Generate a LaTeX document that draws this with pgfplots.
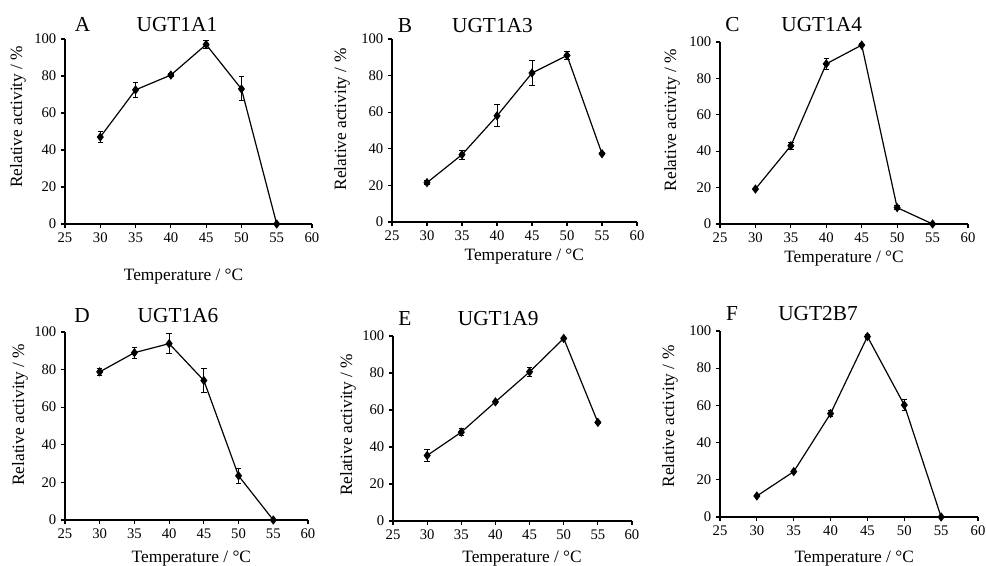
\documentclass[border=0pt]{standalone}
\usepackage{fontspec}
\setmainfont{Liberation Serif}
\usepackage{pgfplots}
\pgfplotsset{compat=1.18}

% common look of the six panels
\pgfplotsset{
  panel/.style={
    scale only axis,
    axis lines=left,
    axis line style={-, line width=0.8pt},
    xmin=25, xmax=60, ymin=0, ymax=100,
    xtick={25,30,...,60}, ytick={0,20,...,100},
    tick align=outside, major tick length=3pt,
    tick style={line width=0.8pt, black},
    ticklabel style={font=\fontsize{11}{13}\selectfont},
    /pgf/number format/assume math mode=true,
    label style={font=\fontsize{13}{15}\selectfont},
    xlabel={Temperature / °C},
    ylabel={Relative activity / \%},
    clip=false,
  },
  curve/.style={
    black, line width=0.9pt, mark=diamond*, mark size=2.8pt,
    error bars/.cd, y dir=both, y explicit,
    error bar style={line width=0.75pt},
    error mark options={rotate=90, mark size=2pt, line width=0.75pt},
  },
}

\begin{document}
\begin{tikzpicture}
\useasboundingbox (0,0) rectangle (739.5pt,424.5pt);

% A
\begin{axis}[panel, at={(48.75pt,256.5pt)}, anchor=south west,
  width=185.25pt, height=138.75pt,
  xlabel style={at={(axis description cs:0.48,-0.303)}, anchor=base},
  ylabel style={at={(axis description cs:-0.19,0.58)}, anchor=center}]
\addplot[curve] coordinates {
  (30,47) +- (0,3)
  (35,72.5) +- (0,4)
  (40,80.5) +- (0,1)
  (45,97) +- (0,2)
  (50,73) +- (0,6.5)
  (55,0) +- (0,0)
};
\node[anchor=base, font=\fontsize{16}{18}\selectfont] at (axis description cs:0.071,1.038) {A};
\node[anchor=base, font=\fontsize{16}{18}\selectfont] at (axis description cs:0.453,1.038) {UGT1A1};
\end{axis}

% B
\begin{axis}[panel, at={(294pt,258pt)}, anchor=south west,
  width=183.75pt, height=137.25pt,
  xlabel style={at={(axis description cs:0.54,-0.208)}, anchor=base},
  ylabel style={at={(axis description cs:-0.204,0.56)}, anchor=center}]
\addplot[curve] coordinates {
  (30,21.5) +- (0,1)
  (35,36.8) +- (0,2.5)
  (40,58) +- (0,6)
  (45,81.4) +- (0,7)
  (50,91) +- (0,2)
  (55,37.3) +- (0,0.5)
};
\node[anchor=base, font=\fontsize{16}{18}\selectfont] at (axis description cs:0.053,1.038) {B};
\node[anchor=base, font=\fontsize{16}{18}\selectfont] at (axis description cs:0.41,1.038) {UGT1A3};
\end{axis}

% C
\begin{axis}[panel, at={(540pt,256.5pt)}, anchor=south west,
  width=186pt, height=136.5pt,
  xlabel style={at={(axis description cs:0.50,-0.209)}, anchor=base},
  ylabel style={at={(axis description cs:-0.194,0.57)}, anchor=center}]
\addplot[curve] coordinates {
  (30,19.2) +- (0,0.5)
  (35,43) +- (0,2)
  (40,88) +- (0,3)
  (45,98.3) +- (0,1)
  (50,9) +- (0,1)
  (55,0) +- (0,0)
};
\node[anchor=base, font=\fontsize{16}{18}\selectfont] at (axis description cs:0.05,1.055) {C};
\node[anchor=base, font=\fontsize{16}{18}\selectfont] at (axis description cs:0.41,1.055) {UGT1A4};
\end{axis}

% D
\begin{axis}[panel, at={(48.75pt,34.5pt)}, anchor=south west,
  width=182.25pt, height=141pt,
  xlabel style={at={(axis description cs:0.52,-0.225)}, anchor=base},
  ylabel style={at={(axis description cs:-0.185,0.56)}, anchor=center}]
\addplot[curve] coordinates {
  (30,78.8) +- (0,2)
  (35,89) +- (0,3)
  (40,93.8) +- (0,5.5)
  (45,74.2) +- (0,6.5)
  (50,23.5) +- (0,4)
  (55,0) +- (0,0)
};
\node[anchor=base, font=\fontsize{16}{18}\selectfont] at (axis description cs:0.07,1.053) {D};
\node[anchor=base, font=\fontsize{16}{18}\selectfont] at (axis description cs:0.465,1.053) {UGT1A6};
\end{axis}

% E
\begin{axis}[panel, at={(294.75pt,33.75pt)}, anchor=south west,
  width=179.25pt, height=138.75pt,
  xlabel style={at={(axis description cs:0.54,-0.222)}, anchor=base},
  ylabel style={at={(axis description cs:-0.188,0.52)}, anchor=center}]
\addplot[curve] coordinates {
  (30,35.4) +- (0,3.5)
  (35,48) +- (0,2)
  (40,64.4) +- (0,1)
  (45,80.6) +- (0,2.5)
  (50,98.7) +- (0,0.5)
  (55,53.3) +- (0,0.5)
};
\node[anchor=base, font=\fontsize{16}{18}\selectfont] at (axis description cs:0.05,1.059) {E};
\node[anchor=base, font=\fontsize{16}{18}\selectfont] at (axis description cs:0.44,1.059) {UGT1A9};
\end{axis}

% F
\begin{axis}[panel, at={(540pt,36.75pt)}, anchor=south west,
  width=193.5pt, height=139.5pt,
  xlabel style={at={(axis description cs:0.52,-0.242)}, anchor=base},
  ylabel style={at={(axis description cs:-0.194,0.54)}, anchor=center}]
\addplot[curve] coordinates {
  (30,11.3) +- (0,0.5)
  (35,24.4) +- (0,0.5)
  (40,55.6) +- (0,1.5)
  (45,97) +- (0,1)
  (50,60.2) +- (0,3)
  (55,0) +- (0,0)
};
\node[anchor=base, font=\fontsize{16}{18}\selectfont] at (axis description cs:0.047,1.054) {F};
\node[anchor=base, font=\fontsize{16}{18}\selectfont] at (axis description cs:0.38,1.054) {UGT2B7};
\end{axis}
\end{tikzpicture}
\end{document}
